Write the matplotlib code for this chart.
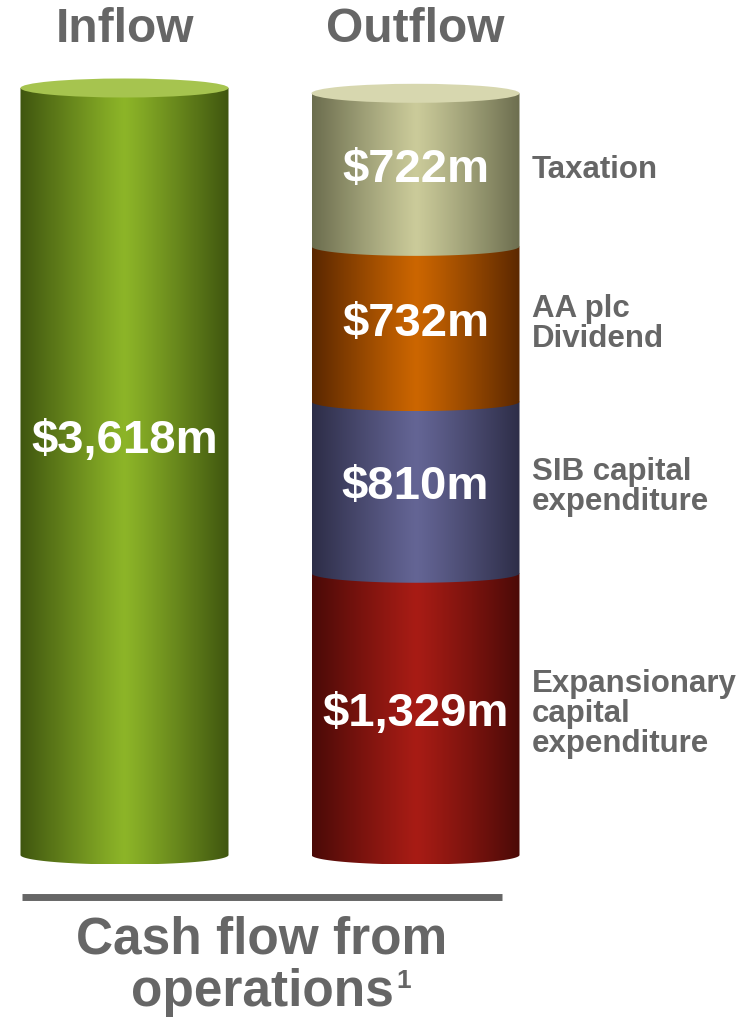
import numpy as np
import matplotlib
matplotlib.use("Agg")
import matplotlib.pyplot as plt
from matplotlib.path import Path
from matplotlib.patches import PathPatch, Ellipse
from matplotlib.colors import to_rgb

plt.rcParams['font.family'] = ['Liberation Sans', 'DejaVu Sans']

# ---- data ($m) ----
columns = ["Inflow", "Outflow"]
inflow_values = [3618]
inflow_labels = ["$3,618m"]
outflow_categories = ["Expansionary\ncapital\nexpenditure", "SIB capital\nexpenditure",
                      "AA plc\nDividend", "Taxation"]
outflow_values = [1329, 810, 732, 722]
outflow_labels = ["$1,329m", "$810m", "$732m", "$722m"]
footer_lines = ["Cash flow from", "operations"]
footer_note = "1"

# ---- styling ----
GRAY = "#666666"
inflow_style = {"edge": "#3f550f", "center": "#8db528", "cap": "#a6c44f"}
outflow_styles = [
    {"edge": "#4a0a07", "center": "#a81c15"},
    {"edge": "#2d2d47", "center": "#646595"},
    {"edge": "#5a2700", "center": "#cc6600"},
    {"edge": "#6b6d4e", "center": "#cbcb9a", "cap": "#d7d7af"},
]

W_PX, H_PX = 754, 1018
fig = plt.figure(figsize=(W_PX / 100, H_PX / 100), dpi=100)
ax = fig.add_axes([0, 0, 1, 1])
ax.set_axis_off()

# value axis: 0 sits at the cylinder base, the inflow total near the top
base_px, top_px = 855, 88
px_per_m = (base_px - top_px) / inflow_values[0]
ax.set_ylim(-(H_PX - base_px) / px_per_m, base_px / px_per_m)
# category axis: column 0 and 1
col_px = [124.5, 415.5]
unit = col_px[1] - col_px[0]
ax.set_xlim(-col_px[0] / unit, (W_PX - col_px[0]) / unit)

width = 208 / unit
ry = 9.5 / px_per_m


def gradient_image(edge, center, n=256):
    t = np.linspace(-1, 1, n)
    k = np.abs(t) ** 1.1
    e, c = np.array(to_rgb(edge)), np.array(to_rgb(center))
    cols = c[None, :] * (1 - k[:, None]) + e[None, :] * k[:, None]
    return cols[None, :, :]


def draw_segment(xc, yb, yt, style, cap=False):
    th = np.linspace(np.pi, 2 * np.pi, 80)
    xs = xc + width / 2 * np.cos(th)
    ys = yb + ry * np.sin(th)
    verts = list(zip(xs, ys)) + [(xc + width / 2, yt), (xc - width / 2, yt), (xs[0], ys[0])]
    codes = [Path.MOVETO] + [Path.LINETO] * (len(verts) - 2) + [Path.CLOSEPOLY]
    patch = PathPatch(Path(verts, codes), transform=ax.transData,
                      facecolor="none", edgecolor="none")
    im = ax.imshow(gradient_image(style["edge"], style["center"]),
                   extent=(xc - width / 2, xc + width / 2, yb - ry, yt + ry),
                   aspect="auto", interpolation="bilinear", zorder=2)
    im.set_clip_path(patch)
    if cap:
        ax.add_patch(Ellipse((xc, yt), width, 2 * ry, facecolor=style["cap"],
                             edgecolor="none", zorder=3))


# inflow cylinder
draw_segment(0, 0, inflow_values[0], inflow_style, cap=True)
ax.text(0, inflow_values[0] * 0.54, inflow_labels[0], ha="center", va="center",
        color="white", fontsize=34, fontweight="bold", zorder=5)

# outflow stacked cylinder
bottom = 0
for i, (val, lab, cat, sty) in enumerate(zip(outflow_values, outflow_labels,
                                             outflow_categories, outflow_styles)):
    top = bottom + val
    draw_segment(1, bottom, top, sty, cap=(i == len(outflow_values) - 1))
    mid = (bottom + top) / 2
    ax.text(1, mid, lab, ha="center", va="center", color="white",
            fontsize=34, fontweight="bold", zorder=5)
    ax.text(1 + width / 2 + 0.042, mid, cat, ha="left", va="center", color=GRAY,
            fontsize=22.5, fontweight="bold", linespacing=1.0, zorder=5)
    bottom = top

# column headings
xt = ax.get_xaxis_transform()
for i, name in enumerate(columns):
    ax.text(i, 1 - 30 / H_PX, name, transform=xt, ha="center", va="center",
            color=GRAY, fontsize=34.5, fontweight="bold")

# baseline rule and footer
x0, x1 = (22 - col_px[0]) / unit, (502 - col_px[0]) / unit
ax.plot([x0, x1], [1 - 897 / H_PX] * 2, transform=xt, color=GRAY, lw=5.0,
        solid_capstyle="butt")
xc_footer = (x0 + x1) / 2
ax.text(xc_footer, 1 - 953 / H_PX, footer_lines[0], transform=xt, ha="center",
        va="baseline", color=GRAY, fontsize=37, fontweight="bold")
t2 = ax.text(xc_footer, 1 - 1006 / H_PX, footer_lines[1], transform=xt, ha="center",
             va="baseline", color=GRAY, fontsize=37, fontweight="bold")
fig.canvas.draw()
bb = t2.get_window_extent()
fig.text((bb.x1 + 3) / W_PX, 1 - 988 / H_PX, footer_note, ha="left", va="baseline",
         color=GRAY, fontsize=19, fontweight="bold")

fig.savefig("out.png", dpi=100)
